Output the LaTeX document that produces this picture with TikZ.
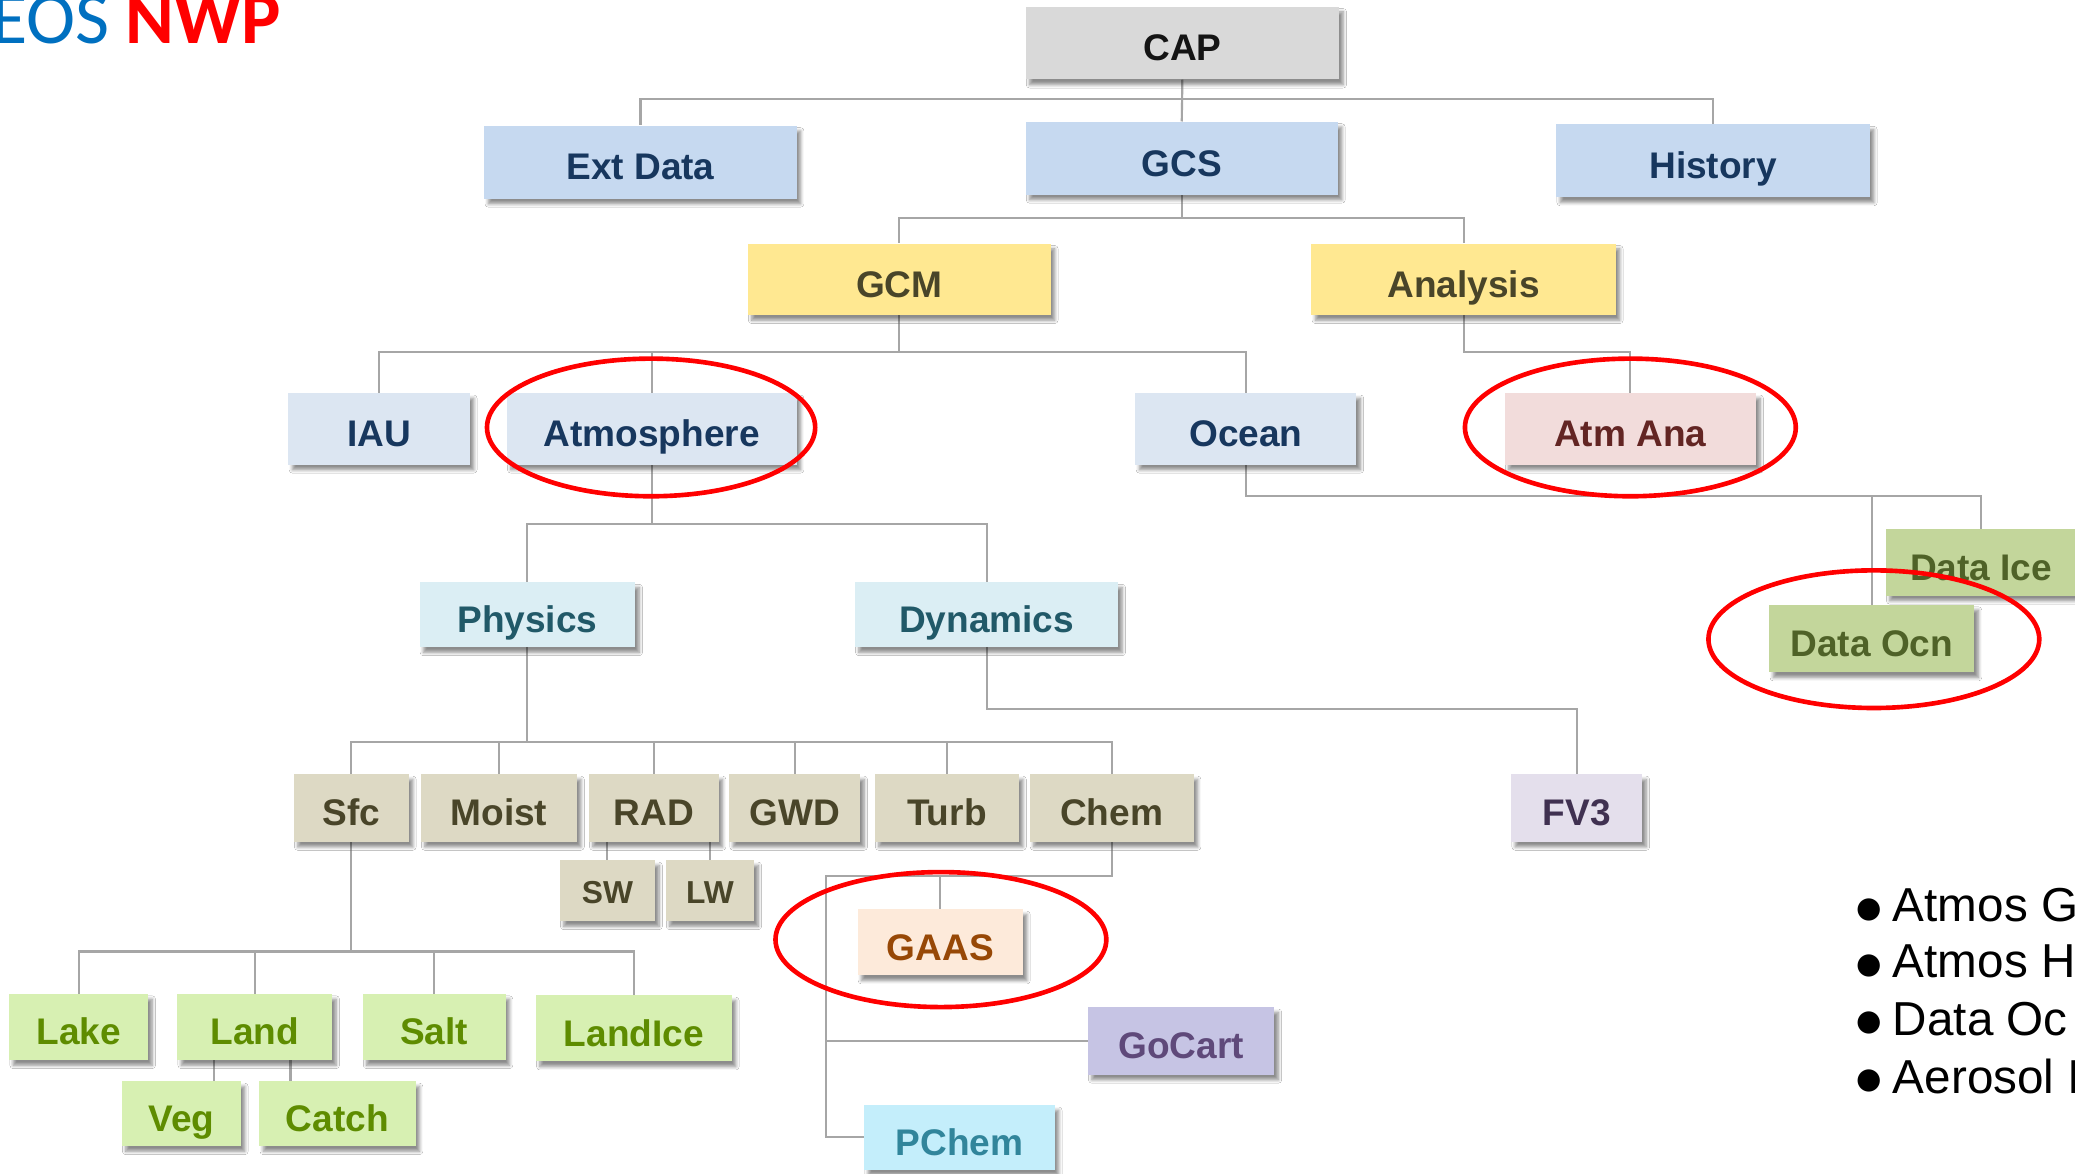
\documentclass[tikz,border=0pt]{standalone}
\usepackage{fontspec}
\setmainfont{Liberation Sans}
\newfontfamily\calfont{Carlito}
\newfontfamily\dvfont{DejaVu Sans}
\usetikzlibrary{shadows.blur,backgrounds}
\definecolor{lineg}{RGB}{166,166,166}
\definecolor{capF}{RGB}{217,217,217}\definecolor{capT}{RGB}{20,20,20}
\definecolor{blueF}{RGB}{198,217,240}\definecolor{navyT}{RGB}{23,55,94}
\definecolor{paleF}{RGB}{220,230,242}
\definecolor{yelF}{RGB}{255,232,145}\definecolor{oliveT}{RGB}{73,69,41}
\definecolor{roseF}{RGB}{242,220,219}\definecolor{roseT}{RGB}{99,37,35}
\definecolor{dgF}{RGB}{195,214,155}\definecolor{dgT}{RGB}{79,98,40}
\definecolor{tealF}{RGB}{219,238,244}\definecolor{tealT}{RGB}{33,89,104}
\definecolor{tanF}{RGB}{221,217,196}
\definecolor{lavF}{RGB}{228,223,236}\definecolor{lavT}{RGB}{64,49,81}
\definecolor{peachF}{RGB}{253,234,218}\definecolor{peachT}{RGB}{151,72,6}
\definecolor{goF}{RGB}{198,196,228}\definecolor{goT}{RGB}{95,73,122}
\definecolor{pcF}{RGB}{196,238,251}\definecolor{pcT}{RGB}{49,133,155}
\definecolor{lgF}{RGB}{215,240,178}\definecolor{lgT}{RGB}{94,140,0}
\definecolor{eosblue}{RGB}{0,112,192}
\tikzset{
  box/.style={rectangle, inner sep=0pt, text height=27pt, text depth=0pt,
    font=\fontsize{28}{32}\selectfont\bfseries,
    blur shadow={shadow xshift=3pt, shadow yshift=-4pt, shadow blur radius=2.5pt, shadow blur steps=6, shadow opacity=45}},
  sbox/.style={text height=20pt, font=\fontsize{24}{28}\selectfont\bfseries},
  capbox/.style={box, fill=capF, text=capT},
  bluebox/.style={box, fill=blueF, text=navyT},
  palebox/.style={box, fill=paleF, text=navyT},
  yelbox/.style={box, fill=yelF, text=oliveT},
  rosebox/.style={box, fill=roseF, text=roseT},
  dgbox/.style={box, fill=dgF, text=dgT},
  tealbox/.style={box, fill=tealF, text=tealT},
  tanbox/.style={box, fill=tanF, text=oliveT},
  lavbox/.style={box, fill=lavF, text=lavT},
  peachbox/.style={box, fill=peachF, text=peachT},
  gobox/.style={box, fill=goF, text=goT},
  pcbox/.style={box, fill=pcF, text=pcT},
  lgbox/.style={box, fill=lgF, text=lgT},
  conn/.style={draw=lineg, line width=1.6pt},
  ring/.style={draw=red, line width=3.5pt},
  bullet/.style={anchor=base west, inner sep=0pt, font=\fontsize{36}{40}\selectfont}
}
\newcommand{\blt}{\raisebox{3.5pt}{\dvfont\fontsize{22}{26}\selectfont ●}\hspace{8pt}}
\begin{document}
\begin{tikzpicture}[x=1pt,y=-1pt]
\clip (0,0) rectangle (1568,887);
% title
\node[anchor=base west, inner sep=0pt, font=\calfont\fontsize{56}{60}\selectfont] (title) at (-7,33)
  {\textcolor{eosblue}{EOS} \textcolor{red}{\bfseries NWP}};
% level 0-1
\node[capbox, minimum width=237pt, minimum height=55pt] (cap) at (893.5,32.5) {CAP};
\node[bluebox, minimum width=236pt, minimum height=55pt] (ext) at (484,122.5) {Ext Data};
\node[bluebox, minimum width=236pt, minimum height=55pt] (gcs) at (893,119.5) {GCS};
\node[bluebox, minimum width=237pt, minimum height=55pt] (hist) at (1294.5,121.5) {History};
% level 2
\node[yelbox, minimum width=229pt, minimum height=54pt] (gcm) at (679.5,211) {GCM};
\node[yelbox, minimum width=230pt, minimum height=54pt] (ana) at (1106,211) {Analysis};
% level 3
\node[palebox, minimum width=137pt, minimum height=54pt] (iau) at (286.5,324) {IAU};
\node[palebox, minimum width=219pt, minimum height=54pt] (atm) at (492.5,324) {Atmosphere};
\node[palebox, minimum width=167pt, minimum height=54pt] (ocn) at (941.5,324) {Ocean};
\node[rosebox, minimum width=190pt, minimum height=54pt] (atmana) at (1232,324) {Atm Ana};
% ocean data
\node[dgbox, minimum width=144pt, minimum height=50pt] (dice) at (1497,425) {Data Ice};
\node[dgbox, minimum width=155pt, minimum height=51pt] (docn) at (1414.5,482.5) {Data Ocn};
% level 4
\node[tealbox, minimum width=163pt, minimum height=49pt] (phys) at (398.5,464.5) {Physics};
\node[tealbox, minimum width=199pt, minimum height=49pt] (dyn) at (745.5,464.5) {Dynamics};
% level 5
\node[tanbox, minimum width=87pt, minimum height=51pt] (sfc) at (265.5,610.5) {Sfc};
\node[tanbox, minimum width=118pt, minimum height=51pt] (moist) at (377,610.5) {Moist};
\node[tanbox, minimum width=98pt, minimum height=51pt] (rad) at (494,610.5) {RAD};
\node[tanbox, minimum width=99pt, minimum height=51pt] (gwd) at (600.5,610.5) {GWD};
\node[tanbox, minimum width=109pt, minimum height=51pt] (turb) at (715.5,610.5) {Turb};
\node[tanbox, minimum width=124pt, minimum height=51pt] (chem) at (840,610.5) {Chem};
\node[lavbox, minimum width=99pt, minimum height=51pt] (fv3) at (1191.5,610.5) {FV3};
\node[tanbox, sbox, minimum width=72pt, minimum height=46pt] (sw) at (459,673) {SW};
\node[tanbox, sbox, minimum width=67pt, minimum height=46pt] (lw) at (536.5,673) {LW};
% chemistry
\node[peachbox, minimum width=125pt, minimum height=50pt] (gaas) at (710.5,712) {GAAS};
\node[gobox, minimum width=141pt, minimum height=51pt] (gocart) at (892.5,786.5) {GoCart};
\node[pcbox, minimum width=144pt, minimum height=49pt] (pchem) at (725,859.5) {PChem};
% surface
\node[lgbox, minimum width=105pt, minimum height=50pt] (lake) at (59.5,776) {Lake};
\node[lgbox, minimum width=117pt, minimum height=50pt] (land) at (192.5,776) {Land};
\node[lgbox, minimum width=108pt, minimum height=50pt] (salt) at (328,776) {Salt};
\node[lgbox, minimum width=148pt, minimum height=50pt] (landice) at (479,777) {LandIce};
\node[lgbox, minimum width=90pt, minimum height=49pt] (veg) at (137,841.5) {Veg};
\node[lgbox, minimum width=118pt, minimum height=49pt] (catch) at (255,841.5) {Catch};
% bus coordinates
\coordinate (bA) at (0,75);
\coordinate (bB) at (0,165);
\coordinate (bC) at (0,266);
\coordinate (bD) at (0,375);
\coordinate (bE) at (0,396);
\coordinate (bF) at (0,561);
\coordinate (bG) at (0,536);
\coordinate (bH) at (0,662);
\coordinate (bI) at (0,719);
\coordinate (cv) at (624,662);
\begin{pgfonlayer}{background}
\fill[white] (0,0) rectangle (1568,887);
\draw[conn] (cap.south) -- (gcs.north);
\draw[conn] (cap.south) -- (cap.south |- bA) -| (ext.north);
\draw[conn] (cap.south) -- (cap.south |- bA) -| (hist.north);
\draw[conn] (gcs.south) -- (gcs.south |- bB) -| (gcm.north);
\draw[conn] (gcs.south) -- (gcs.south |- bB) -| (ana.north);
\draw[conn] (gcm.south) -- (gcm.south |- bC) -| (iau.north);
\draw[conn] (gcm.south) -- (gcm.south |- bC) -| (atm.north);
\draw[conn] (gcm.south) -- (gcm.south |- bC) -| (ocn.north);
\draw[conn] (ana.south) -- (ana.south |- bC) -| (atmana.north);
\draw[conn] (ocn.south) -- (ocn.south |- bD) -| (dice.north);
\draw[conn] (ocn.south) -- (ocn.south |- bD) -| (docn.north);
\draw[conn] (atm.south) -- (atm.south |- bE) -| (phys.north);
\draw[conn] (atm.south) -- (atm.south |- bE) -| (dyn.north);
\foreach \n in {sfc,moist,rad,gwd,turb,chem}
  \draw[conn] (phys.south) -- (phys.south |- bF) -| (\n.north);
\draw[conn] (dyn.south) -- (dyn.south |- bG) -| (fv3.north);
\draw[conn] (sw.north |- rad.south) -- (sw.north);
\draw[conn] (lw.north |- rad.south) -- (lw.north);
\draw[conn] (chem.south) -- (chem.south |- bH) -| (gaas.north);
\draw[conn] (chem.south) -- (chem.south |- bH) -- (cv) |- (gocart.west);
\draw[conn] (cv) |- (pchem.west);
\foreach \n in {lake,land,salt,landice}
  \draw[conn] (sfc.south) -- (sfc.south |- bI) -| (\n.north);
\draw[conn] ([xshift=-31pt]land.south) -- ([xshift=-31pt]land.south |- veg.north);
\draw[conn] ([xshift=27pt]land.south) -- ([xshift=27pt]land.south |- catch.north);
\end{pgfonlayer}
% red rings
\draw[ring] (492,323) ellipse [x radius=124, y radius=52];
\draw[ring] (1232,323) ellipse [x radius=125, y radius=52];
\draw[ring] (1416,483) ellipse [x radius=125, y radius=52];
\draw[ring] (711,710) ellipse [x radius=125, y radius=51];
% bullet list
\node[bullet] (l1) at (1403,696.5) {\blt Atmos G};
\node[bullet] (l2) at (1403,739) {\blt Atmos H};
\node[bullet] (l3) at (1403,782.5) {\blt Data Oc};
\node[bullet] (l4) at (1403,826) {\blt Aerosol I};
\end{tikzpicture}
\end{document}
